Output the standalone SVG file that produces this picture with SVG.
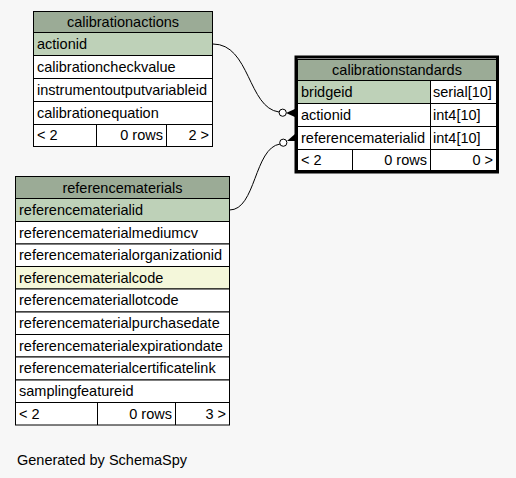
<svg xmlns="http://www.w3.org/2000/svg" width="516" height="478" viewBox="0 0 516 478">
<style>
text{font-family:"Liberation Sans",Arial,sans-serif;font-size:14.5px;fill:#000}
.hdr{fill:#9bab96}
.pk{fill:#bed1b8}
.idx{fill:#f4f7da}
.row{fill:#ffffff}
.b{stroke:#000;stroke-width:1}
.c{text-anchor:middle}
.r{text-anchor:end}
.edge{fill:none;stroke:#000;stroke-width:1}
</style>
<rect width="516" height="478" fill="#f7f7f7"/>
<g id="calibrationactions">
<rect x="33.5" y="11.5" width="179" height="21" class="hdr b"/>
<text x="123" y="27" class="c">calibrationactions</text>
<rect x="33.5" y="32.5" width="179" height="23" class="pk b"/>
<text x="37" y="49">actionid</text>
<rect x="33.5" y="55.5" width="179" height="23" class="row b"/>
<text x="37" y="72">calibrationcheckvalue</text>
<rect x="33.5" y="78.5" width="179" height="23" class="row b"/>
<text x="37" y="95">instrumentoutputvariableid</text>
<rect x="33.5" y="101.5" width="179" height="23" class="row b"/>
<text x="37" y="118">calibrationequation</text>
<rect x="33.5" y="124.5" width="179" height="22" class="row b"/>
<line x1="96.5" y1="124.5" x2="96.5" y2="146.5" class="b"/>
<line x1="166.5" y1="124.5" x2="166.5" y2="146.5" class="b"/>
<text x="37" y="140">&lt; 2</text>
<text x="163" y="140" class="r">0 rows</text>
<text x="209" y="140" class="r">2 &gt;</text>
</g>
<g id="calibrationstandards">
<rect x="296" y="57" width="201.5" height="115" fill="#fff" stroke="#000" stroke-width="3"/>
<rect x="297.5" y="59.5" width="199" height="21" class="hdr b"/>
<text x="397" y="75" class="c">calibrationstandards</text>
<rect x="297.5" y="80.5" width="133" height="23" class="pk b"/>
<rect x="430.5" y="80.5" width="66" height="23" class="row b"/>
<text x="301" y="97">bridgeid</text>
<text x="433" y="97">serial[10]</text>
<rect x="297.5" y="103.5" width="133" height="23" class="row b"/>
<rect x="430.5" y="103.5" width="66" height="23" class="row b"/>
<text x="301" y="120">actionid</text>
<text x="433" y="120">int4[10]</text>
<rect x="297.5" y="126.5" width="133" height="23" class="row b"/>
<rect x="430.5" y="126.5" width="66" height="23" class="row b"/>
<text x="301" y="143">referencematerialid</text>
<text x="433" y="143">int4[10]</text>
<rect x="297.5" y="149.5" width="199" height="21" class="row b"/>
<line x1="352.5" y1="149.5" x2="352.5" y2="170.5" class="b"/>
<line x1="430.5" y1="149.5" x2="430.5" y2="170.5" class="b"/>
<text x="301" y="165">&lt; 2</text>
<text x="427" y="165" class="r">0 rows</text>
<text x="493" y="165" class="r">0 &gt;</text>
</g>
<g id="referencematerials">
<rect x="15.5" y="176.5" width="214" height="22" class="hdr b"/>
<text x="122.5" y="193" class="c">referencematerials</text>
<rect x="15.5" y="198.5" width="214" height="23" class="pk b"/>
<text x="19" y="215">referencematerialid</text>
<rect x="15.5" y="221.5" width="214" height="22.5" class="row b"/>
<text x="19" y="238">referencematerialmediumcv</text>
<rect x="15.5" y="244" width="214" height="22.5" class="row b"/>
<text x="19" y="260">referencematerialorganizationid</text>
<rect x="15.5" y="266.5" width="214" height="22.5" class="idx b"/>
<text x="19" y="283">referencematerialcode</text>
<rect x="15.5" y="289" width="214" height="23" class="row b"/>
<text x="19" y="305">referencemateriallotcode</text>
<rect x="15.5" y="312" width="214" height="22.5" class="row b"/>
<text x="19" y="328">referencematerialpurchasedate</text>
<rect x="15.5" y="334.5" width="214" height="22.5" class="row b"/>
<text x="19" y="351">referencematerialexpirationdate</text>
<rect x="15.5" y="357" width="214" height="23" class="row b"/>
<text x="19" y="373">referencematerialcertificatelink</text>
<rect x="15.5" y="380" width="214" height="22.5" class="row b"/>
<text x="19" y="396">samplingfeatureid</text>
<rect x="15.5" y="402.5" width="214" height="22.5" class="row b"/>
<line x1="97.5" y1="402.5" x2="97.5" y2="425" class="b"/>
<line x1="175.5" y1="402.5" x2="175.5" y2="425" class="b"/>
<text x="19" y="419">&lt; 2</text>
<text x="172" y="419" class="r">0 rows</text>
<text x="226" y="419" class="r">3 &gt;</text>
</g>
<g id="connectors">
<path class="edge" d="M213,44 C250,44 248,108 279,112"/>
<circle cx="282.7" cy="112.7" r="3.6" fill="#fff" stroke="#000" stroke-width="1"/>
<polygon points="286,113 296,108.5 296,117.5" fill="#000"/>
<path class="edge" d="M229.5,210 C256,210 254,148 280,144"/>
<circle cx="283.3" cy="142.7" r="3.6" fill="#fff" stroke="#000" stroke-width="1"/>
<polygon points="287,141 295,134 297,141" fill="#000"/>
</g>
<text x="17" y="465">Generated by SchemaSpy</text>
</svg>
